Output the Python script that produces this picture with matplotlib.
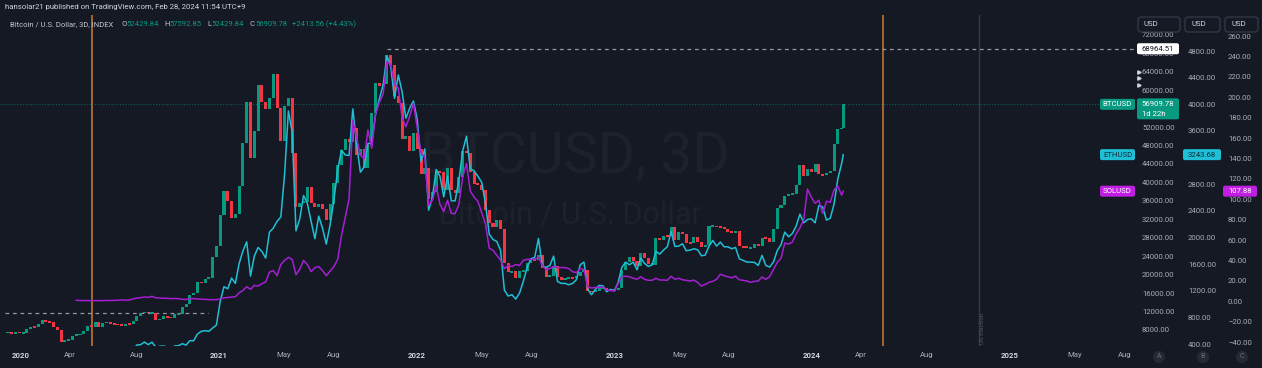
import numpy as np
import pandas as pd
import matplotlib
matplotlib.use("Agg")
import matplotlib.pyplot as plt
import matplotlib.dates as mdates
from matplotlib.patches import FancyBboxPatch, Circle

nan = np.nan

# ---------------- data: weekly closes (Sundays from 2019-12-01), last bar 2024-02-28 ----------------
first_week = "2019-12-01"
last_bar = "2024-02-28"

btc_2019 = [7400, 7520, 7080, 7510, 7390]
btc_2020 = [7400, 8200, 8700, 8600,
            9350, 10150, 9900, 9700,
            8550, 8050, 5350, 5800, 5900,
            6800, 6900, 7120, 7700,
            8900, 8750, 9700, 8700, 9450,
            9750, 9400, 9300, 9100,
            9080, 9250, 9200, 9950,
            11100, 11700, 11900, 11650, 11700,
            10250, 10320, 10950, 10750,
            10670, 11380, 11500, 13030,
            13740, 15480, 15950, 18400, 18200,
            19150, 19250, 23800, 26250]
btc_2021 = [33000, 38200, 36000, 32300, 33100,
            39250, 48600, 57500, 45200,
            51200, 61000, 57350, 55800,
            58200, 63500, 56200, 49000,
            56600, 58250, 46400, 34700, 35600,
            35800, 39100, 35500, 34700,
            35300, 34250, 31800, 35400,
            39900, 43800, 47000, 49300, 48850,
            51750, 46000, 47250, 43200,
            48200, 54950, 61550, 60900, 61300,
            67500, 65500, 58700, 57250,
            49400, 50100, 46700, 50800]
btc_2022 = [47300, 41850, 43100, 36300, 37900,
            42400, 42200, 38400, 43200,
            38400, 37800, 41250, 46800,
            46400, 42150, 39700, 39450,
            38450, 34050, 31300, 30300, 31800,
            29900, 22500, 20550, 20700,
            19300, 20800, 20800, 22600, 23300,
            23200, 24300, 21500, 19550,
            19800, 21800, 19400, 18800,
            19300, 19400, 19250, 19600, 20650,
            20900, 16350, 16300, 16450,
            17100, 17100, 16750, 16850]
btc_2023 = [16600, 17100, 20900, 22700, 23750,
            22950, 21800, 24650, 23500,
            22400, 22100, 27900, 27500,
            28450, 28300, 30300, 27600, 29300,
            28900, 26900, 26750, 28100,
            27100, 25900, 26350, 30500,
            30600, 30300, 30250, 29800, 29300,
            29050, 29400, 26100, 26000,
            25850, 25850, 26550, 26250,
            27950, 27900, 27150, 29950, 34500,
            35000, 37100, 37400, 37450,
            39450, 43800, 41400, 43000, 42300]
btc_2024 = [43950, 41750, 41600, 42050, 42550, 48300, 51650, 51730, 56909.78]

eth_2019 = [151, 148, 132, 133, 132]
eth_2020 = [144, 146, 166, 168,
            190, 223, 266, 274,
            218, 200, 124, 130, 125,
            144, 158, 180, 195,
            210, 188, 207, 200, 231,
            241, 232, 242, 225,
            228, 240, 235, 310,
            385, 390, 430, 390, 428,
            352, 365, 370, 355,
            345, 370, 375, 405,
            383, 450, 450, 550, 590,
            600, 590, 640, 685]
eth_2021 = [1040, 1260, 1230, 1390, 1310,
            1610, 1800, 1935, 1420,
            1720, 1850, 1790, 1690,
            2080, 2140, 2240, 2310,
            2950, 3900, 3580, 2100, 2280,
            2630, 2510, 2240, 1980,
            2320, 2140, 1900, 2190,
            2560, 3010, 3310, 3240, 3230,
            3930, 3400, 2980, 3060,
            3410, 3420, 3850, 4080, 4290,
            4730, 4570, 4090, 4440,
            4190, 3790, 3940, 4050]
eth_2022 = [3770, 3140, 3330, 2410, 2600,
            3020, 2920, 2610, 2920,
            2550, 2550, 2860, 3300,
            3520, 3030, 3000, 2920,
            2830, 2520, 2050, 1970, 1940,
            1805, 1210, 1120, 1140,
            1075, 1165, 1340, 1550, 1680,
            1700, 1985, 1570, 1550,
            1580, 1720, 1340, 1310,
            1310, 1290, 1310, 1365, 1590,
            1630, 1220, 1140, 1220,
            1280, 1275, 1185, 1220]
eth_2023 = [1200, 1320, 1550, 1630, 1590,
            1630, 1515, 1690, 1610,
            1565, 1590, 1790, 1750,
            1810, 1860, 2090, 1865, 1870,
            1905, 1800, 1810, 1830,
            1815, 1725, 1735, 1870,
            1955, 1870, 1930, 1860, 1860,
            1830, 1850, 1680, 1655,
            1630, 1630, 1625, 1580,
            1730, 1580, 1555, 1630, 1800,
            1890, 2080, 2010, 2060,
            2170, 2350, 2220, 2270, 2280]
eth_2024 = [2220, 2480, 2460, 2260, 2290, 2500, 2880, 3110, 3243.68]

sol_2019 = [nan, nan, nan, nan, nan]
sol_2020 = [nan, nan, nan, nan,
            nan, nan, nan, nan,
            nan, nan, nan, nan, nan,
            nan, 0.95, 0.65, 0.62,
            0.67, 0.60, 0.64, 0.58, 0.60,
            0.78, 0.70, 0.85, 0.97,
            1.28, 1.05, 1.15, 2.20,
            3.10, 3.50, 4.10, 3.80, 4.80,
            3.30, 3.20, 2.90, 2.90,
            2.55, 2.70, 2.50, 1.90,
            1.70, 2.30, 2.60, 2.20, 2.05,
            1.80, 1.55, 1.50, 1.50]
sol_2021 = [2.20, 3.40, 3.60, 4.10, 4.30,
            8.20, 10.60, 14.20, 11.70,
            15.50, 14.80, 17.20, 18.90,
            28.50, 30.00, 25.00, 36.00,
            40.00, 43.00, 41.00, 26.00, 31.50,
            40.00, 36.00, 29.00, 33.00,
            34.00, 30.00, 25.00, 29.50,
            34.00, 41.00, 64.00, 82.00, 100.00,
            177.00, 160.00, 143.00, 140.00,
            168.00, 150.00, 184.00, 195.00, 203.00,
            235.00, 232.00, 213.00, 209.00,
            180.00, 171.00, 181.00, 194.00]
sol_2022 = [170, 145, 141, 94, 99,
            113, 95, 88, 99,
            86, 86, 95, 122,
            135, 108, 102, 98,
            87, 76, 52, 50, 45,
            40, 32, 35, 34,
            36, 35, 40, 41, 41,
            41, 43, 35, 31,
            32, 34, 33, 33,
            33, 32, 29, 28, 32,
            31, 14, 13, 13.5,
            13.5, 14, 11, 10.5]
sol_2023 = [10, 17, 24, 24.5, 24,
            22.5, 21.5, 24, 21.5,
            20.5, 20.5, 22.5, 20.8,
            20.8, 20.5, 24.5, 21.5, 22.5,
            21, 20.5, 19.8, 20.7,
            18.5, 14.8, 16.5, 18.5,
            19.5, 21.5, 26.5, 25, 24,
            23, 24.5, 21, 20.5,
            19.8, 18.5, 19.5, 19.8,
            23.8, 21.5, 24, 31, 38,
            42, 57, 56, 58,
            66, 72, 80, 110, 102]
sol_2024 = [96, 99, 86, 98, 97, 109, 113, 104, 107.88]

# last bar legend values
last_open, last_high, last_low = 52429.84, 57592.85, 52429.84
last_change, last_change_pct = 2413.56, 4.43

# drawings
ath_value = 68964.51
ath_from = "2021-11-07"
level_2020 = 11700
level_2020_span = ("2019-12-02", "2020-12-11")
halving_marks = ["2020-05-12", "2024-05-12"]
election_mark = "2024-11-05"

# axis ticks
xtick_dates = ["2020-01-01", "2020-04-01", "2020-08-01", "2021-01-01", "2021-05-01", "2021-08-01",
               "2022-01-01", "2022-05-01", "2022-08-01", "2023-01-01", "2023-05-01", "2023-08-01",
               "2024-01-01", "2024-04-01", "2024-08-01", "2025-01-01", "2025-05-01", "2025-08-01"]
xtick_labels = ["2020", "Apr", "Aug", "2021", "May", "Aug", "2022", "May", "Aug", "2023", "May", "Aug",
                "2024", "Apr", "Aug", "2025", "May", "Aug"]
btc_ticks = list(range(8000, 72001, 4000))
eth_ticks = list(range(400, 4801, 400))
sol_ticks = list(range(-40, 261, 20))
btc_hidden_ticks = [56000]      # covered by the last-price label
eth_hidden_ticks = [3200]

# ---------------- assemble ----------------
btc = btc_2019 + btc_2020 + btc_2021 + btc_2022 + btc_2023 + btc_2024
eth = eth_2019 + eth_2020 + eth_2021 + eth_2022 + eth_2023 + eth_2024
sol = sol_2019 + sol_2020 + sol_2021 + sol_2022 + sol_2023 + sol_2024
assert len(btc) == len(eth) == len(sol) == 223, (len(btc), len(eth), len(sol))
dates = list(pd.date_range(first_week, periods=len(btc) - 1, freq="7D")) + [pd.Timestamp(last_bar)]
xs = mdates.date2num(dates)

# ---------------- style ----------------
BG = "#151924"
UP, DOWN = "#089981", "#f23645"
ETH_C, SOL_C = "#1fbfd5", "#a51fd3"
SOL_LBL = "#c01ee2"
TXT = "#d1d4dc"
AXT = "#a9acb5"
plt.rcParams["font.family"] = ["Roboto", "DejaVu Sans"]

W, H = 1262, 368
fig = plt.figure(figsize=(W / 100, H / 100), dpi=100, facecolor=BG)
PL, PR, PT, PB = 0, 1136, 15, 346
ax = fig.add_axes([PL / W, 1 - PB / H, (PR - PL) / W, (PB - PT) / H])
ax.set_facecolor(BG)
ax_eth = ax.twinx()
ax_sol = ax.twinx()
ax.yaxis.tick_right()

x2020 = mdates.date2num(pd.Timestamp("2020-01-01"))
PX_DAY = 0.5413
ax.set_xlim(x2020 - 21 / PX_DAY, x2020 + (PR - 21) / PX_DAY)
ax.set_ylim(4532, 76276)
ax_eth.set_ylim(370, 5341)
ax_sol.set_ylim(-43.9, 280.6)

for a in (ax, ax_eth, ax_sol):
    for s in a.spines.values():
        s.set_visible(False)

# overlay in pixel coords
ov = fig.add_axes([0, 0, 1, 1], zorder=10)
ov.set_xlim(0, W)
ov.set_ylim(H, 0)
ov.axis("off")
ov.patch.set_alpha(0)

# watermark
ax.text(575, 173, "BTCUSD, 3D", transform=ov.transData, fontsize=41, color="#1d212c",
        ha="center", va="baseline", zorder=0.5)
ax.text(570, 224, "Bitcoin / U.S. Dollar", transform=ov.transData, fontsize=22, color="#1d212c",
        ha="center", va="baseline", zorder=0.5)

# vertical lines
for d in halving_marks:
    ax.axvline(mdates.date2num(pd.Timestamp(d)), color="#bf7530", lw=1.2, zorder=1)
ax.axvline(mdates.date2num(pd.Timestamp(election_mark)), color="#363a46", lw=1.0, zorder=1)
ov.text(983, 328, "US Election", rotation=90, fontsize=4.5, color="#555965", ha="center", va="center")

# horizontal drawings
ax.hlines(ath_value, mdates.date2num(pd.Timestamp(ath_from)), ax.get_xlim()[1],
          colors="#9598a1", linestyles=(0, (3, 3)), lw=0.9, zorder=2)
ax.hlines(level_2020, mdates.date2num(pd.Timestamp(level_2020_span[0])),
          mdates.date2num(pd.Timestamp(level_2020_span[1])),
          colors="#9598a1", linestyles=(0, (3, 3)), lw=0.9, zorder=2)
ax.axhline(btc[-1], color=UP, ls=(0, (1, 1.5)), lw=0.8, alpha=0.55, zorder=2)

# candles (open = previous close); tiny bodies get a minimum visible height
opens = np.array(btc[:-1], dtype=float)
closes = np.array(btc[1:], dtype=float)
cols = np.where(closes >= opens, UP, DOWN)
MIN_H = 380.0
lo = np.minimum(opens, closes)
hi = np.maximum(opens, closes)
mid = (lo + hi) / 2
small = (hi - lo) < MIN_H
lo = np.where(small, mid - MIN_H / 2, lo)
hi = np.where(small, mid + MIN_H / 2, hi)
ax.bar(xs[1:], hi - lo, bottom=lo, width=5.6, color=cols, linewidth=0, zorder=3)

# lines
ax_eth.plot(xs, eth, color=ETH_C, lw=1.1, zorder=4)
ax_sol.plot(xs, sol, color=SOL_C, lw=1.1, zorder=4)

# x ticks
ax.set_xticks(mdates.date2num(pd.to_datetime(xtick_dates)))
ax.set_xticklabels(xtick_labels)
ax.tick_params(axis="x", length=0, pad=4.3, labelsize=5.6, colors=AXT)
for lbl in ax.get_xticklabels():
    if lbl.get_text().isdigit():
        lbl.set_fontweight("bold")
        lbl.set_color(TXT)

# y ticks (three price scales)
def fmt(v, hidden):
    if v in hidden:
        return ""
    s = f"{abs(v):.2f}"
    return ("\u2212" + s) if v < 0 else s

for a, ticks, pad, hidden in ((ax, btc_ticks, 4.3, btc_hidden_ticks),
                              (ax_eth, eth_ticks, 37.4, eth_hidden_ticks),
                              (ax_sol, sol_ticks, 66.2, [])):
    a.set_yticks(ticks)
    a.set_yticklabels([fmt(t, hidden) for t in ticks])
    a.tick_params(axis="y", length=0, pad=pad, labelsize=5.6, colors=AXT)
    a.grid(False)


def ypix(a, v):
    return H - a.transData.transform((ax.get_xlim()[0], v))[1]


def box(x0, x1, yc, h, fc, text, tc, fs=5.6, ec="none", lw=0):
    ov.add_patch(FancyBboxPatch((x0, yc - h / 2), x1 - x0, h,
                                boxstyle="round,pad=0,rounding_size=2", fc=fc, ec=ec, lw=lw))
    ov.text((x0 + x1) / 2, yc, text, color=tc, ha="center", va="center", fontsize=fs)


# price labels
y_ath = ypix(ax, ath_value)
box(1137, 1179, y_ath, 11, "#ffffff", f"{ath_value:.2f}", "#131722")
y_btc = ypix(ax, btc[-1])
ov.add_patch(FancyBboxPatch((1137, y_btc - 6), 42, 21, boxstyle="round,pad=0,rounding_size=2",
                            fc=UP, ec="none"))
ov.text(1158, y_btc, f"{btc[-1]:.2f}", color="#ffffff", ha="center", va="center", fontsize=5.6)
ov.text(1142, y_btc + 10, "1d 22h", color="#ffffff", ha="left", va="center", fontsize=5.6)
box(1100, 1135, y_btc, 11, UP, "BTCUSD", "#ffffff")
y_eth = ypix(ax_eth, eth[-1])
box(1100, 1135, y_eth, 11, ETH_C, "ETHUSD", "#0b2f38")
box(1183, 1221, y_eth, 11, ETH_C, f"{eth[-1]:.2f}", "#0b2f38")
y_sol = ypix(ax_sol, sol[-1])
box(1100, 1135, y_sol, 11, SOL_LBL, "SOLUSD", "#ffffff")
box(1223, 1257, y_sol, 11, SOL_LBL, f"{sol[-1]:.2f}", "#ffffff")
ov.plot([1139, 1139, 1139], [72, 78, 85], marker=">", ms=2.4, ls="none", color=TXT)

# USD header boxes
for x0, x1 in ((1138, 1180), (1185, 1220), (1225, 1258)):
    ov.add_patch(FancyBboxPatch((x0, 17), x1 - x0, 15, boxstyle="round,pad=0,rounding_size=3",
                                fc=BG, ec="#3a3e4a", lw=0.8))
    ov.text(x0 + 6, 24.5, "USD", color=TXT, ha="left", va="center", fontsize=5.6)

# A B C circles
for cx_, letter in ((1159, "A"), (1203, "B"), (1242, "C")):
    ov.add_patch(Circle((cx_, 357), 6, fc="#252934", ec="none"))
    ov.text(cx_, 357, letter, color="#6b6f7a", ha="center", va="center", fontsize=5)

# header texts
ov.text(5, 7, "hansolar21 published on TradingView.com, Feb 28, 2024 11:54 UTC+9",
        color=TXT, fontsize=5.6, ha="left", va="center")
ov.text(10, 24, "Bitcoin / U.S. Dollar, 3D, INDEX", color="#c3c6ce", fontsize=5.5, ha="left", va="center")
for x_l, letter, x_v, val in ((121, "O", 126, last_open), (164, "H", 169, last_high),
                              (207, "L", 211, last_low), (249, "C", 255, btc[-1])):
    ov.text(x_l, 24, letter, color="#c3c6ce", fontsize=5.5, ha="left", va="center")
    ov.text(x_v, 24, f"{val:.2f}", color=UP, fontsize=5.5, ha="left", va="center")
ov.text(292, 24, f"+{last_change:.2f} (+{last_change_pct:.2f}%)", color=UP, fontsize=5.5,
        ha="left", va="center")

fig.savefig("out.png", dpi=100, facecolor=BG)
